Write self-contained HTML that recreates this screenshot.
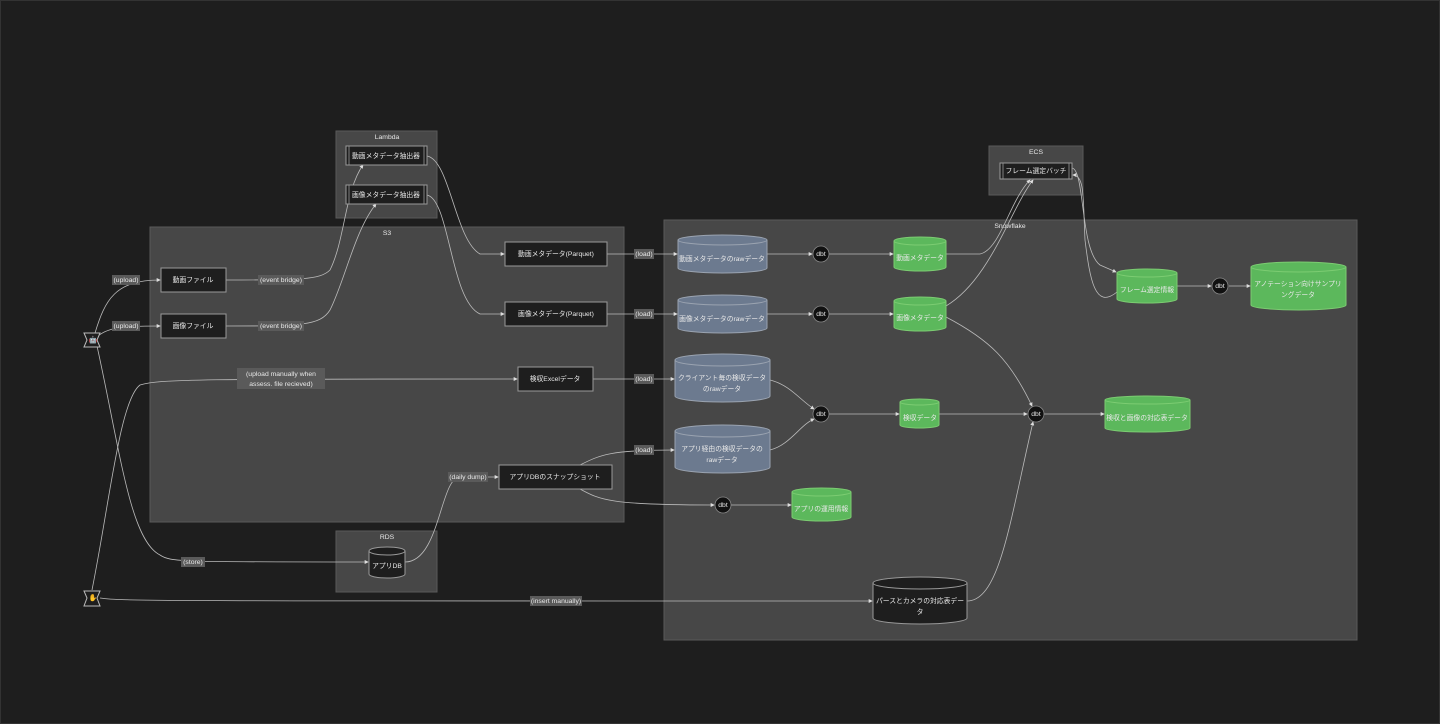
<!DOCTYPE html>
<html><head><meta charset="utf-8"><style>
html,body{margin:0;padding:0;background:#1e1e1e;}
svg{display:block}
text{font-family:"Liberation Sans","Noto Sans CJK JP",sans-serif;fill:#e8e8e8;font-size:6.8px;text-anchor:middle;dominant-baseline:middle}
.g{fill:#474747;stroke:#5a5a5a;stroke-width:1}
.n{fill:#1e1e1e;stroke:#999;stroke-width:1}
.e{fill:none;stroke:#bbb;stroke-width:0.8}
.lb{fill:#5a5a5a}
.bc{fill:#6c7a8f;stroke:#9aa3b0;stroke-width:1}
.gc{fill:#5cb85c;stroke:#7ccc72;stroke-width:1}
.kc{fill:#1e1e1e;stroke:#999;stroke-width:1}
.d{fill:#111;stroke:#888;stroke-width:0.8}
</style></head><body>
<svg width="1440" height="724" viewBox="0 0 1440 724" xmlns="http://www.w3.org/2000/svg">
<defs><marker id="a" viewBox="0 0 6 6" refX="5" refY="3" markerWidth="5" markerHeight="5" orient="auto"><path d="M0,0L6,3L0,6z" fill="#ddd"/></marker></defs>
<rect x="0.5" y="0.5" width="1439" height="723" fill="#1e1e1e" stroke="#333"/>
<rect class="g" x="336" y="131" width="101" height="87"/><text x="387" y="137">Lambda</text>
<rect class="g" x="150" y="227" width="474" height="295"/><text x="387" y="233">S3</text>
<rect class="g" x="336" y="531" width="101" height="61"/><text x="387" y="537">RDS</text>
<rect class="g" x="989" y="146" width="94" height="49"/><text x="1036" y="152">ECS</text>
<rect class="g" x="664" y="220" width="693" height="420"/><text x="1010" y="226">Snowflake</text>
<g class="e" marker-end="url(#a)">
<path d="M95,333 C105,300 115,280 160,280"/>
<path d="M98,336 C110,326 130,326 160,326"/>
<path d="M226,280 C300,280 320,280 330,270 C345,240 345,190 363,165"/>
<path d="M226,326 C300,326 320,326 330,310 C345,280 355,230 376,204"/>
<path d="M427,156 C450,160 455,240 480,254 L504,254"/>
<path d="M427,195 C450,200 450,300 480,314 L504,314"/>
<path d="M607,254 L677,254"/><path d="M607,314 L677,314"/>
<path d="M593,379 L674,379"/>
<path d="M767,254 L812,254"/><path d="M767,314 L812,314"/>
<path d="M829,254 L893,254"/><path d="M829,314 L893,314"/>
<path d="M770,380 C790,385 800,400 814,409"/>
<path d="M770,450 C790,445 800,425 814,419"/>
<path d="M829,414 L899,414"/><path d="M939,414 L1027,414"/>
<path d="M1044,414 L1104,414"/>
<path d="M946,254 L980,254 C1000,250 1010,200 1030,180"/>
<path d="M946,306 C990,280 1010,210 1033,180"/>
<path d="M946,317 C990,340 1010,360 1032,406"/>
<path d="M967,601 C1000,601 1010,520 1033,422"/>
<path d="M1072,168 C1085,170 1080,250 1100,265 L1116,272"/>
<path d="M1117,292 C1095,310 1090,280 1085,240 C1083,200 1085,175 1073,175"/>
<path d="M1177,286 L1211,286"/><path d="M1229,286 L1250,286"/>
<path d="M97,346 C120,450 130,540 160,555 C170,562 180,562 368,562"/>
<path d="M405,562 C440,562 440,477 460,477 L498,477"/>
<path d="M580,465 C600,455 610,450 674,450"/>
<path d="M580,489 C600,500 610,505 714,505"/>
<path d="M731,505 L791,505"/>
<path d="M92,590 C110,500 120,400 140,385 C160,379 200,379 517,379"/>
<path d="M100,598 C120,601 140,601 872,601"/>
</g>
<g>
<rect class="lb" x="112" y="275" width="28" height="10"/><text x="126" y="280">(upload)</text>
<rect class="lb" x="112" y="321" width="28" height="10"/><text x="126" y="326">(upload)</text>
<rect class="lb" x="258" y="275" width="46" height="10"/><text x="281" y="280">(event bridge)</text>
<rect class="lb" x="258" y="321" width="46" height="10"/><text x="281" y="326">(event bridge)</text>
<rect class="lb" x="634" y="249" width="20" height="10"/><text x="644" y="254">(load)</text>
<rect class="lb" x="634" y="309" width="20" height="10"/><text x="644" y="314">(load)</text>
<rect class="lb" x="634" y="374" width="20" height="10"/><text x="644" y="379">(load)</text>
<rect class="lb" x="634" y="445" width="20" height="10"/><text x="644" y="450">(load)</text>
<rect class="lb" x="237" y="368" width="88" height="21"/><text x="281" y="374">(upload manually when</text><text x="281" y="384">assess. file recieved)</text>
<rect class="lb" x="448" y="472" width="40" height="10"/><text x="468" y="477">(daily dump)</text>
<rect class="lb" x="181" y="557" width="24" height="10"/><text x="193" y="562">(store)</text>
<rect class="lb" x="530" y="596" width="52" height="10"/><text x="556" y="601">(insert manually)</text>
</g>
<rect class="n" x="346" y="146" width="81" height="19"/><path d="M349,146V165M424,146V165" stroke="#999" stroke-width="0.8"/><text x="386" y="156">動画メタデータ抽出器</text>
<rect class="n" x="346" y="185" width="81" height="19"/><path d="M349,185V204M424,185V204" stroke="#999" stroke-width="0.8"/><text x="386" y="195">画像メタデータ抽出器</text>
<rect class="n" x="161" y="268" width="65" height="24"/><text x="193" y="280">動画ファイル</text>
<rect class="n" x="161" y="314" width="65" height="24"/><text x="193" y="326">画像ファイル</text>
<rect class="n" x="505" y="242" width="102" height="24"/><text x="556" y="254">動画メタデータ(Parquet)</text>
<rect class="n" x="505" y="302" width="102" height="24"/><text x="556" y="314">画像メタデータ(Parquet)</text>
<rect class="n" x="518" y="367" width="75" height="24"/><text x="555" y="379">検収Excelデータ</text>
<rect class="n" x="499" y="465" width="113" height="24"/><text x="555" y="477">アプリDBのスナップショット</text>
<rect class="n" x="1000" y="163" width="72" height="16"/><path d="M1003,163V179M1069,163V179" stroke="#999" stroke-width="0.8"/><text x="1036" y="171">フレーム選定バッチ</text>
<g>
<path class="bc" d="M678,240 a44.5,5 0 0 1 89,0 v28 a44.5,5 0 0 1 -89,0z"/><path d="M678,240 a44.5,5 0 0 0 89,0" fill="none" stroke="#9aa3b0"/><text x="722" y="259">動画メタデータのrawデータ</text>
<path class="bc" d="M678,300 a44.5,5 0 0 1 89,0 v28 a44.5,5 0 0 1 -89,0z"/><path d="M678,300 a44.5,5 0 0 0 89,0" fill="none" stroke="#9aa3b0"/><text x="722" y="319">画像メタデータのrawデータ</text>
<path class="bc" d="M675,360 a47.5,6 0 0 1 95,0 v36 a47.5,6 0 0 1 -95,0z"/><path d="M675,360 a47.5,6 0 0 0 95,0" fill="none" stroke="#9aa3b0"/><text x="722" y="378">クライアント毎の検収データ</text><text x="722" y="389">のrawデータ</text>
<path class="bc" d="M675,431 a47.5,6 0 0 1 95,0 v36 a47.5,6 0 0 1 -95,0z"/><path d="M675,431 a47.5,6 0 0 0 95,0" fill="none" stroke="#9aa3b0"/><text x="722" y="449">アプリ経由の検収データの</text><text x="722" y="460">rawデータ</text>
<path class="gc" d="M894,241 a26,4 0 0 1 52,0 v26 a26,4 0 0 1 -52,0z"/><path d="M894,241 a26,4 0 0 0 52,0" fill="none" stroke="#7ccc72"/><text x="920" y="258">動画メタデータ</text>
<path class="gc" d="M894,301 a26,4 0 0 1 52,0 v26 a26,4 0 0 1 -52,0z"/><path d="M894,301 a26,4 0 0 0 52,0" fill="none" stroke="#7ccc72"/><text x="920" y="318">画像メタデータ</text>
<path class="gc" d="M900,402 a19.5,3 0 0 1 39,0 v23 a19.5,3 0 0 1 -39,0z"/><path d="M900,402 a19.5,3 0 0 0 39,0" fill="none" stroke="#7ccc72"/><text x="920" y="418">検収データ</text>
<path class="gc" d="M1105,400 a42.5,4 0 0 1 85,0 v28 a42.5,4 0 0 1 -85,0z"/><path d="M1105,400 a42.5,4 0 0 0 85,0" fill="none" stroke="#7ccc72"/><text x="1147" y="418">検収と画像の対応表データ</text>
<path class="gc" d="M1117,273 a30,4 0 0 1 60,0 v26 a30,4 0 0 1 -60,0z"/><path d="M1117,273 a30,4 0 0 0 60,0" fill="none" stroke="#7ccc72"/><text x="1147" y="290">フレーム選定情報</text>
<path class="gc" d="M1251,267 a47.5,5 0 0 1 95,0 v38 a47.5,5 0 0 1 -95,0z"/><path d="M1251,267 a47.5,5 0 0 0 95,0" fill="none" stroke="#7ccc72"/><text x="1298" y="284">アノテーション向けサンプリ</text><text x="1298" y="295">ングデータ</text>
<path class="gc" d="M792,492 a29.5,4 0 0 1 59,0 v25 a29.5,4 0 0 1 -59,0z"/><path d="M792,492 a29.5,4 0 0 0 59,0" fill="none" stroke="#7ccc72"/><text x="821" y="509">アプリの運用情報</text>
<path class="kc" d="M369,551 a18,4 0 0 1 36,0 v23 a18,4 0 0 1 -36,0z"/><path d="M369,551 a18,4 0 0 0 36,0" fill="none" stroke="#999"/><text x="387" y="566">アプリDB</text>
<path class="kc" d="M873,583 a47,6 0 0 1 94,0 v35 a47,6 0 0 1 -94,0z"/><path d="M873,583 a47,6 0 0 0 94,0" fill="none" stroke="#999"/><text x="920" y="601">パースとカメラの対応表デー</text><text x="920" y="612">タ</text>
</g>
<g>
<circle class="d" cx="821" cy="254" r="8"/><text x="821" y="254">dbt</text>
<circle class="d" cx="821" cy="314" r="8"/><text x="821" y="314">dbt</text>
<circle class="d" cx="821" cy="414" r="8"/><text x="821" y="414">dbt</text>
<circle class="d" cx="1036" cy="414" r="8"/><text x="1036" y="414">dbt</text>
<circle class="d" cx="1220" cy="286" r="8"/><text x="1220" y="286">dbt</text>
<circle class="d" cx="723" cy="505" r="8"/><text x="723" y="505">dbt</text>
</g>
<path d="M84,333 L100,333 L97,340 L100,347 L84,347 L87,340z" fill="#1e1e1e" stroke="#bbb"/><text x="93" y="340" style="font-size:7px">🤖</text>
<path d="M84,591 L100,591 L97,598 L100,606 L84,606 L87,598z" fill="#1e1e1e" stroke="#bbb"/><text x="93" y="598" style="font-size:7px">✋</text>
</svg>
</body></html>
